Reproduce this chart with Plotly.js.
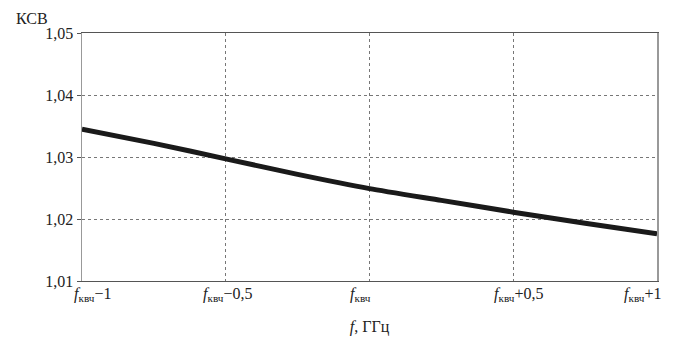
<!DOCTYPE html>
<html>
<head>
<meta charset="utf-8">
<script src="https://cdn.plot.ly/plotly-3.0.1.min.js"></script>
<style>html,body{margin:0;padding:0;background:#fff;}#chart{width:680px;height:338px;}</style>
</head>
<body>
<div id="chart"></div>
<script>
// Frequency offset from f_квч, GHz
const freqOffset = [-1, -0.75, -0.5, -0.25, 0, 0.25, 0.5, 0.75, 1];
// VSWR (КСВ) values
const vswr = [1.0345, 1.0322, 1.0297, 1.0272, 1.0249, 1.0230, 1.0211, 1.0193, 1.0176];
// X tick positions and labels
const xTickVals = [-1, -0.5, 0, 0.5, 1];
const xTickText = [
  '<i>f</i><sub>квч</sub>−1',
  '<i>f</i><sub>квч</sub>−0,5',
  '<i>f</i><sub>квч</sub>',
  '<i>f</i><sub>квч</sub>+0,5',
  '<i>f</i><sub>квч</sub>+1'
];
const yTickVals = [1.01, 1.02, 1.03, 1.04, 1.05];

const font = {family: 'Liberation Serif, Times New Roman, serif', size: 16, color: '#222'};

// horizontal placement of each x tick label's left edge relative to its tick (px)
const labelShift = [-10, -25, -22, -21, -35];

const trace = {
  x: freqOffset, y: vswr, type: 'scatter', mode: 'lines',
  line: {color: '#1a1a1a', width: 5, shape: 'spline', smoothing: 0.6},
  hoverinfo: 'skip'
};

const annotations = xTickVals.map((v, i) => ({
  text: xTickText[i], xref: 'x', yref: 'paper', x: v, y: 0,
  xanchor: 'left', yanchor: 'top', xshift: labelShift[i], yshift: -2,
  showarrow: false, font: font
}));
annotations.push({
  text: 'КСВ', xref: 'paper', yref: 'paper', x: 0, y: 1,
  xshift: -50, yshift: 15, showarrow: false, font: font, xanchor: 'center', yanchor: 'middle'
});

const layout = {
  width: 680, height: 338,
  margin: {l: 82, r: 23, t: 33, b: 57},
  paper_bgcolor: '#fff', plot_bgcolor: '#fff',
  separators: ', ',
  showlegend: false,
  font: font,
  xaxis: {
    range: [-1, 1], tickvals: xTickVals, showticklabels: false,
    showgrid: true, gridcolor: '#777', griddash: 'dot', gridwidth: 1,
    showline: true, linecolor: '#555', linewidth: 1.2, mirror: true,
    ticks: '', zeroline: false, tickfont: font,
    title: {text: '<i>f</i>, ГГц', font: font, standoff: 39}
  },
  yaxis: {
    range: [1.01, 1.05], tickvals: yTickVals, tickformat: '.2f',
    showgrid: true, gridcolor: '#777', griddash: 'dot', gridwidth: 1,
    showline: true, linecolor: '#999', linewidth: 1.5, mirror: true,
    ticks: 'outside', ticklen: 4, tickcolor: '#555', zeroline: false, tickfont: font
  },
  annotations: annotations
};

Plotly.newPlot('chart', [trace], layout, {staticPlot: true, displayModeBar: false});
</script>
</body>
</html>
